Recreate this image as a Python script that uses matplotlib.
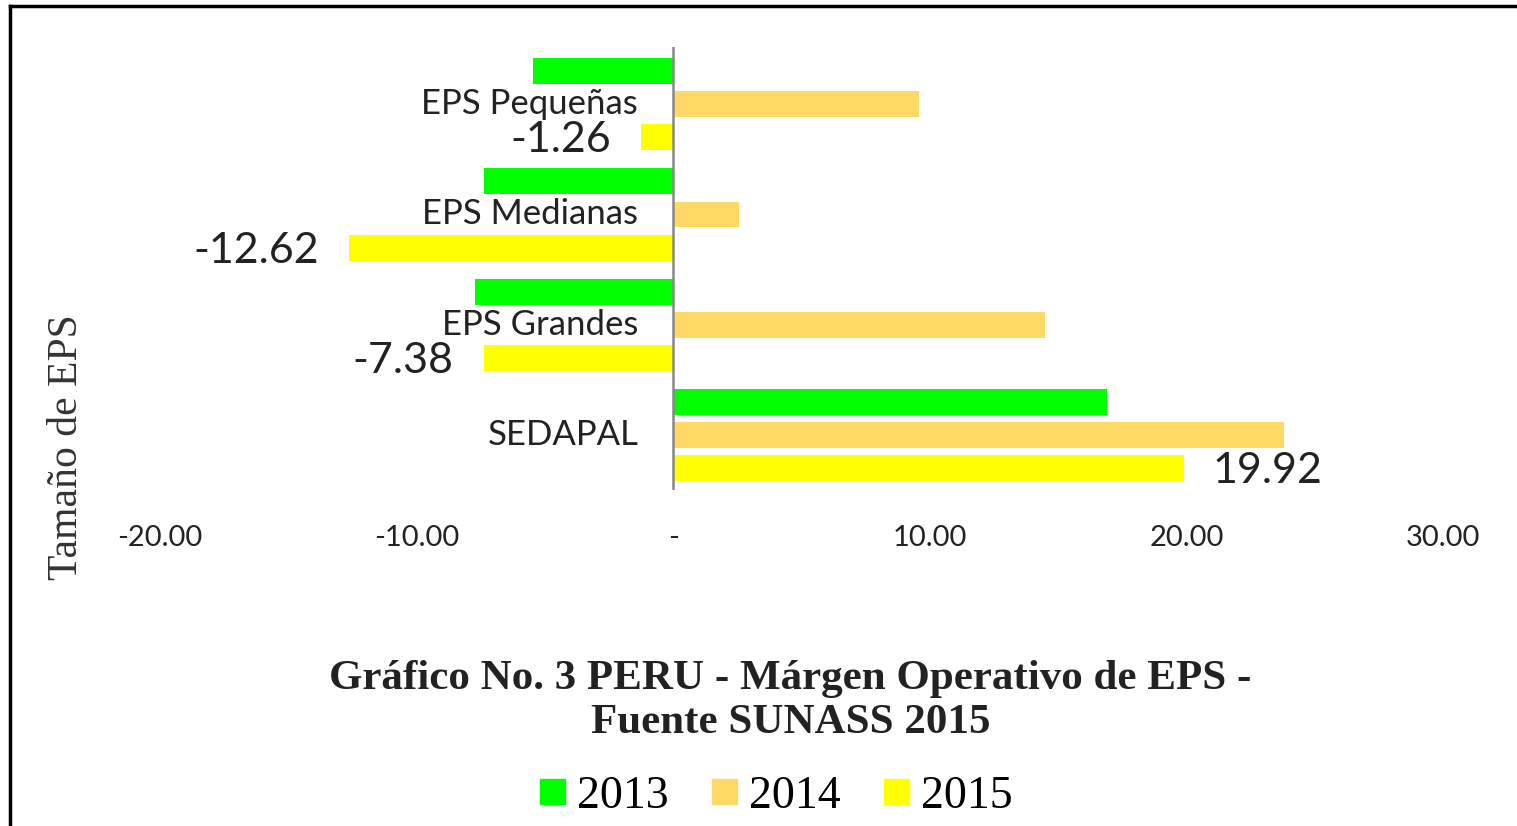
import matplotlib

matplotlib.use("Agg")
import matplotlib.pyplot as plt
from matplotlib.lines import Line2D
from matplotlib.ticker import FuncFormatter

categories = ["EPS Pequeñas", "EPS Medianas", "EPS Grandes", "SEDAPAL"]
years = ["2013", "2014", "2015"]
values_2013 = [-5.45, -7.39, -7.74, 16.9]
values_2014 = [9.57, 2.57, 14.5, 23.8]
values_2015 = [-1.26, -12.62, -7.38, 19.92]
colors = ["#00ff00", "#ffd966", "#ffff00"]

sans = "Lato"
serif = "Liberation Serif"

fig = plt.figure(figsize=(15.17, 8.26), dpi=100)
ax = fig.add_axes([0.1055, 0.4068, 0.8457, 0.5363])

series = [values_2013, values_2014, values_2015]
offsets = [-0.30, 0.0, 0.30]
ypos = list(range(len(categories)))
for vals, off, col, yr in zip(series, offsets, colors, years):
    ax.barh([y + off for y in ypos], vals, height=0.235, color=col, label=yr)

# data labels only for 2015
for y, v in zip(ypos, values_2015):
    dx = 28 if v > 0 else -30
    ax.annotate(f"{v:.2f}", xy=(v, y + 0.30), xytext=(dx, -3), textcoords="offset pixels",
                ha="left" if v > 0 else "right", va="center",
                fontsize=31, family=sans, color="#222222")

# category labels next to the zero axis
for y, cat in zip(ypos, categories):
    ax.annotate(cat, xy=(0, y), xytext=(-35, 0), textcoords="offset pixels",
                ha="right", va="center", fontsize=25, family=sans, color="#222222")

ax.axvline(0, color="#888888", linewidth=1.8)
ax.set_xlim(-20, 30)
ax.set_ylim(3.5, -0.52)
ax.set_xticks([-20, -10, 0, 10, 20, 30])
ax.xaxis.set_major_formatter(FuncFormatter(lambda v, p: "-" if v == 0 else f"{v:.2f}"))
ax.tick_params(axis="x", length=0, pad=25, labelsize=21, labelcolor="#222222")
for lab in ax.get_xticklabels():
    lab.set_family(sans)
ax.set_yticks([])
for s in ax.spines.values():
    s.set_visible(False)

fig.text(0.044, 0.459, "Tamaño de EPS", rotation=90, ha="center", va="center",
         fontsize=30, family=serif, color="#333333")

title_lines = ["Gráfico No. 3 PERU - Márgen Operativo de EPS -", "Fuente SUNASS 2015"]
for line, yy in zip(title_lines, [0.178, 0.1247]):
    fig.text(0.521, yy, line, ha="center", va="center", fontsize=31, family=serif,
             fontweight="bold", color="#222222")

handles = [Line2D([], [], marker="s", linestyle="none", markersize=18, color=c) for c in colors]
fig.legend(handles, years, loc="center", bbox_to_anchor=(0.508, 0.036), ncol=3, frameon=False,
           prop={"family": serif, "size": 33}, handletextpad=0.05, columnspacing=0.7,
           handlelength=1.0)

# border like the original screenshot (top and left only visible)
fig.add_artist(Line2D([0.0066, 1.0], [0.9927, 0.9927], color="black", linewidth=2.5))
fig.add_artist(Line2D([0.0066, 0.0066], [0.0, 0.9927], color="black", linewidth=2.5))

fig.savefig("out.png", dpi=100)
